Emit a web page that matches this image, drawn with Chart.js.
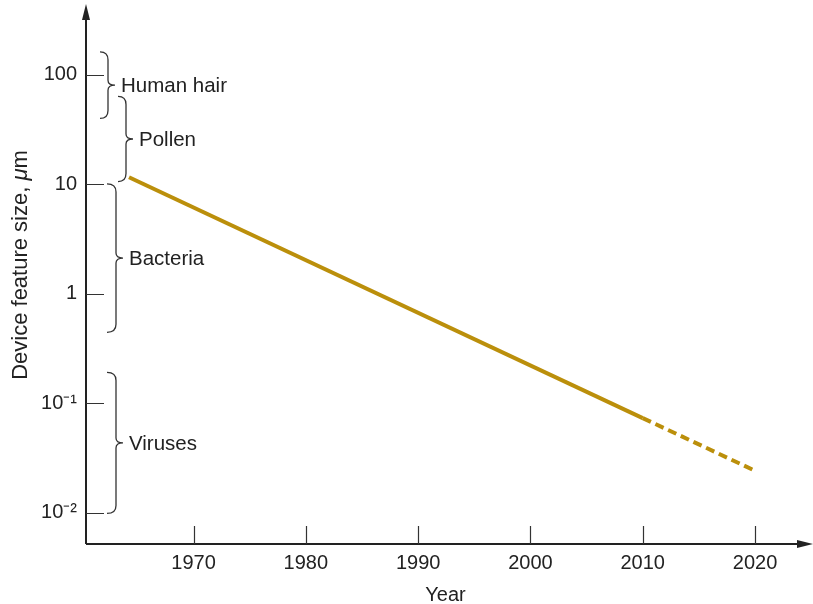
<!DOCTYPE html>
<html>
<head>
<meta charset="utf-8">
<script src="https://cdn.jsdelivr.net/npm/chart.js@4/dist/chart.umd.min.js"></script>
<style>
html,body{margin:0;padding:0;background:#fff;}
canvas{display:block;}
</style>
</head>
<body>
<canvas id="c" width="813" height="604"></canvas>
<script>
// ---- data ----
const years = [1964.25, 2010, 2020];
const featureSize = [11.6, 0.0735, 0.0243];
const xTickYears = [1970, 1980, 1990, 2000, 2010, 2020];
const yTickValues = [0.01, 0.1, 1, 10, 100];
const yTickLabels = ['10\u207B\u00B2', '10\u207B\u00B9', '1', '10', '100'];
const bracketLabels = ['Human hair', 'Pollen', 'Bacteria', 'Viruses'];
const bracketLow = [40, 10.6, 0.446, 0.0099];
const bracketHigh = [162, 63.5, 10.1, 0.192];

const INK = '#222222';
const FONT = '"Liberation Sans", Arial, Helvetica, sans-serif';

function drawBrace(ctx, x0, xs, y1, y2) {
  const ym = (y1 + y2) / 2;
  const r = 8, m = 5, tip = 7;
  ctx.beginPath();
  ctx.moveTo(x0, y1);
  ctx.quadraticCurveTo(xs, y1, xs, y1 + r);
  ctx.lineTo(xs, ym - m);
  ctx.quadraticCurveTo(xs, ym, xs + tip, ym);
  ctx.quadraticCurveTo(xs, ym, xs, ym + m);
  ctx.lineTo(xs, y2 - r);
  ctx.quadraticCurveTo(xs, y2, x0, y2);
  ctx.stroke();
}

const bracketX = [[100, 108], [118, 126], [107, 116], [107, 116]];

const decor = {
  id: 'decor',
  afterDraw(chart) {
    const ctx = chart.ctx;
    const xs = chart.scales.x, ys = chart.scales.y;
    const a = chart.chartArea;
    ctx.save();
    ctx.strokeStyle = INK; ctx.fillStyle = INK; ctx.lineWidth = 2;
    ctx.beginPath();
    ctx.moveTo(a.left, a.bottom); ctx.lineTo(a.left, 14);
    ctx.moveTo(a.left, a.bottom); ctx.lineTo(804, a.bottom);
    ctx.stroke();
    ctx.beginPath();
    ctx.moveTo(a.left, 4); ctx.lineTo(a.left - 4, 20); ctx.lineTo(a.left + 4, 20); ctx.closePath(); ctx.fill();
    ctx.beginPath();
    ctx.moveTo(813, a.bottom); ctx.lineTo(797, a.bottom - 4); ctx.lineTo(797, a.bottom + 4); ctx.closePath(); ctx.fill();
    ctx.lineWidth = 1.2; ctx.strokeStyle = '#333';
    ctx.beginPath();
    xs.ticks.forEach(t => {
      const px = Math.round(xs.getPixelForValue(t.value)) + 0.5;
      ctx.moveTo(px, a.bottom); ctx.lineTo(px, a.bottom - 18);
    });
    ys.ticks.forEach(t => {
      const py = Math.round(ys.getPixelForValue(t.value)) + 0.5;
      ctx.moveTo(a.left, py); ctx.lineTo(a.left + 18, py);
    });
    ctx.stroke();
    ctx.lineWidth = 1.3; ctx.strokeStyle = '#333';
    ctx.font = '20.5px ' + FONT; ctx.fillStyle = INK; ctx.textBaseline = 'middle'; ctx.textAlign = 'left';
    bracketLabels.forEach((lab, i) => {
      const yTop = ys.getPixelForValue(bracketHigh[i]);
      const yBot = ys.getPixelForValue(bracketLow[i]);
      drawBrace(ctx, bracketX[i][0], bracketX[i][1], yTop, yBot);
      ctx.fillText(lab, bracketX[i][1] + 13, (yTop + yBot) / 2 + 1);
    });
    ctx.save();
    ctx.translate(27, 265);
    ctx.rotate(-Math.PI / 2);
    ctx.textBaseline = 'alphabetic';
    const part1 = 'Device feature size, ';
    const part2 = '\u03BC';
    const part3 = 'm';
    const f = '22px ' + FONT, fi = 'italic 22px ' + FONT;
    ctx.font = f;
    const w1 = ctx.measureText(part1).width;
    const w3 = ctx.measureText(part3).width;
    ctx.font = fi;
    const w2 = ctx.measureText(part2).width;
    let x = -(w1 + w2 + w3) / 2;
    ctx.font = f; ctx.fillText(part1, x, 0); x += w1;
    ctx.font = fi; ctx.fillText(part2, x, 0); x += w2;
    ctx.font = f; ctx.fillText(part3, x, 0);
    ctx.restore();
    ctx.restore();
  }
};

new Chart(document.getElementById('c'), {
  type: 'line',
  data: {
    datasets: [{
      data: years.map((y, i) => ({ x: y, y: featureSize[i] })),
      borderColor: '#BB8F0B',
      borderWidth: 4,
      pointRadius: 0,
      tension: 0,
      borderCapStyle: 'butt',
      segment: {
        borderDash: c => c.p0DataIndex >= 1 ? [9, 5] : undefined
      }
    }]
  },
  options: {
    responsive: false,
    animation: false,
    events: [],
    layout: { padding: { top: 12, right: 8, left: 0, bottom: 0 } },
    plugins: { legend: { display: false }, tooltip: { enabled: false } },
    scales: {
      x: {
        type: 'linear',
        min: 1960.42, max: 2024.45,
        afterBuildTicks: s => { s.ticks = xTickYears.map(v => ({ value: v })); },
        afterFit: s => { s.height = 60; },
        grid: { display: false, drawTicks: false },
        border: { display: false },
        ticks: { color: INK, font: { size: 20, family: FONT }, padding: 7, callback: v => String(v), maxRotation: 0, autoSkip: false },
        title: { display: true, text: 'Year', color: INK, font: { size: 20, family: FONT }, padding: { top: 0, bottom: -3 } }
      },
      y: {
        type: 'logarithmic',
        min: 0.00521, max: 310,
        afterBuildTicks: s => { s.ticks = yTickValues.map(v => ({ value: v })); },
        afterFit: s => { s.width = 86; },
        grid: { display: false, drawTicks: false },
        border: { display: false },
        ticks: {
          color: INK, font: { size: 20, family: FONT }, padding: 9, autoSkip: false,
          callback: v => { const i = yTickValues.indexOf(v); return i >= 0 ? yTickLabels[i] : ''; }
        }
      }
    }
  },
  plugins: [decor]
});
</script>
</body>
</html>
